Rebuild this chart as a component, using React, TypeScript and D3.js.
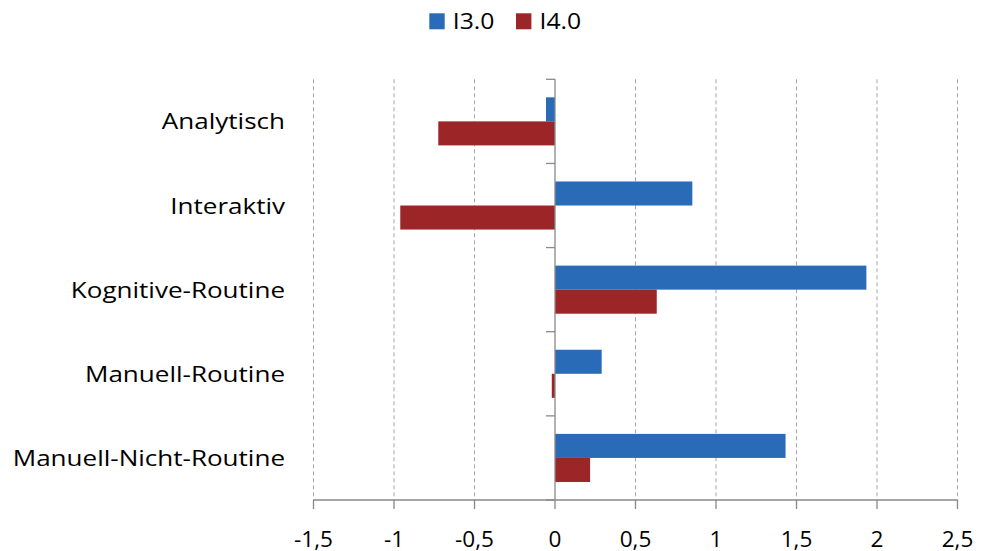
import React from "react";
import * as d3 from "d3";

const categories = ["Analytisch", "Interaktiv", "Kognitive-Routine", "Manuell-Routine", "Manuell-Nicht-Routine"];
const seriesNames = ["I3.0", "I4.0"];
const i30Values = [-0.056, 0.853, 1.934, 0.29, 1.432];
const i40Values = [-0.725, -0.961, 0.632, -0.02, 0.218];
const xTicks = [-1.5, -1, -0.5, 0, 0.5, 1, 1.5, 2, 2.5];
const colors = ["#2A6BB8", "#9C2528"];

const W = 981, H = 551;
const left = 313.5, right = 957.5, top = 79.3, bottom = 500;
const font = "Open Sans, sans-serif";
const fs = 21.7;

export default function App() {
  const x = d3.scaleLinear().domain([-1.5, 2.5]).range([left, right]);
  const y = d3.scaleBand<string>().domain(categories).range([top, bottom]).paddingInner(0).paddingOuter(0);
  const step = y.step();
  const inner = d3.scaleBand<string>().domain(seriesNames).range([step * 0.2143, step * 0.7857]);
  const series = [i30Values, i40Values];
  const fmt = (v: number) => String(v).replace(".", ",");
  const x0 = x(0);
  const boundaries = d3.range(categories.length + 1).map((i) => top + i * step);

  return (
    <div style={{ position: "absolute", left: 0, top: 0 }}>
      <svg width={W} height={H} style={{ display: "block", background: "#fff" }}>
        {xTicks.filter((t) => t !== 0).map((t) => (
          <line key={"g" + t} x1={x(t)} x2={x(t)} y1={top} y2={bottom} stroke="#A6A6A6" strokeWidth={1} strokeDasharray="4,3" />
        ))}
        {series.map((vals, si) =>
          vals.map((v, ci) => (
            <rect
              key={si + "-" + ci}
              x={Math.min(x(v), x0)}
              y={(y(categories[ci]) as number) + (inner(seriesNames[si]) as number)}
              width={Math.abs(x(v) - x0)}
              height={inner.bandwidth()}
              fill={colors[si]}
            />
          ))
        )}
        {/* bottom axis */}
        <line x1={left} x2={right} y1={bottom} y2={bottom} stroke="#898989" strokeWidth={1.3} />
        {xTicks.map((t) => (
          <g key={"t" + t}>
            <line x1={x(t)} x2={x(t)} y1={bottom} y2={bottom + 9} stroke="#898989" strokeWidth={1.3} />
            <text transform={`translate(${x(t)},546.5) scale(1.04,1)`} textAnchor="middle" fontFamily={font} fontSize={fs} fill="#000">
              {fmt(t)}
            </text>
          </g>
        ))}
        {/* vertical axis at 0 */}
        <line x1={x0} x2={x0} y1={top} y2={bottom} stroke="#898989" strokeWidth={1.3} />
        {boundaries.map((b, i) => (
          <line key={"b" + i} x1={x0 - 9} x2={x0} y1={b} y2={b} stroke="#898989" strokeWidth={1.3} />
        ))}
        {categories.map((c) => (
          <text
            key={c}
            transform={`translate(285,${(y(c) as number) + step / 2 + 8}) scale(1.2,1)`}
            textAnchor="end"
            fontFamily={font}
            fontSize={fs}
            fill="#000"
          >
            {c}
          </text>
        ))}
        {/* legend */}
        {seriesNames.map((s, i) => (
          <g key={s} transform={`translate(${429.3 + i * 86.7},0)`}>
            <rect x={0} y={13.3} width={15.4} height={16} fill={colors[i]} />
            <text transform="translate(23.5,29.3) scale(1.14,1)" fontFamily={font} fontSize={fs} fill="#000">
              {s}
            </text>
          </g>
        ))}
      </svg>
    </div>
  );
}
